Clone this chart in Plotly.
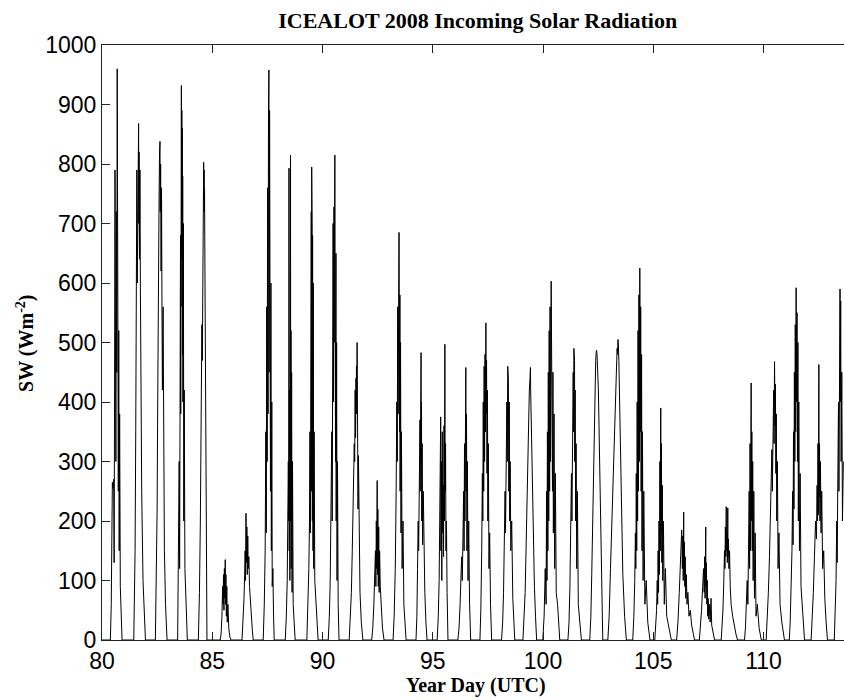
import plotly.graph_objects as go

# Hand-read samples of the incoming shortwave trace (Year Day, W m-2), one row per day
year_day = [
    80.00, 80.38, 80.42, 80.45, 80.47, 80.50, 80.53, 80.55, 80.57, 80.59, 80.61, 80.63, 80.65, 80.67, 80.69, 80.70, 80.71, 80.72, 80.73, 80.74, 80.76, 80.78, 80.80, 80.83, 80.86, 80.91,
    81.44, 81.50, 81.53, 81.55, 81.57, 81.58, 81.60, 81.62, 81.64, 81.66, 81.67, 81.68, 81.70, 81.72, 81.74, 81.76, 81.80, 81.86, 81.92, 81.97,
    82.42, 82.47, 82.50, 82.52, 82.54, 82.56, 82.57, 82.59, 82.61, 82.63, 82.64, 82.66, 82.68, 82.70, 82.72, 82.74, 82.77, 82.79, 82.83, 82.88, 82.95,
    83.43, 83.47, 83.50, 83.52, 83.53, 83.55, 83.56, 83.57, 83.58, 83.59, 83.60, 83.61, 83.62, 83.63, 83.64, 83.65, 83.66, 83.67, 83.69, 83.71, 83.73, 83.76, 83.80, 83.87,
    84.37, 84.42, 84.46, 84.50, 84.53, 84.55, 84.57, 84.59, 84.61, 84.62, 84.63, 84.64, 84.65, 84.66, 84.67, 84.69, 84.71, 84.74, 84.76,
    85.36, 85.40, 85.44, 85.47, 85.49, 85.51, 85.53, 85.55, 85.57, 85.59, 85.60, 85.62, 85.64, 85.66, 85.68, 85.71, 85.75, 85.80, 85.85,
    86.35, 86.40, 86.44, 86.47, 86.49, 86.51, 86.53, 86.55, 86.57, 86.59, 86.61, 86.63, 86.66, 86.69, 86.73, 86.78, 86.82, 86.86,
    87.31, 87.36, 87.40, 87.43, 87.45, 87.47, 87.49, 87.51, 87.53, 87.55, 87.56, 87.57, 87.58, 87.60, 87.61, 87.63, 87.64, 87.66, 87.68, 87.70, 87.72, 87.75, 87.78, 87.81,
    88.31, 88.36, 88.40, 88.43, 88.45, 88.47, 88.48, 88.49, 88.50, 88.52, 88.53, 88.54, 88.55, 88.56, 88.57, 88.58, 88.60, 88.62, 88.64, 88.67, 88.71, 88.76,
    89.29, 89.34, 89.38, 89.41, 89.43, 89.45, 89.46, 89.47, 89.49, 89.50, 89.51, 89.52, 89.53, 89.54, 89.55, 89.57, 89.58, 89.60, 89.62, 89.65, 89.70, 89.75, 89.80,
    90.26, 90.31, 90.35, 90.39, 90.42, 90.44, 90.45, 90.47, 90.48, 90.50, 90.52, 90.53, 90.56, 90.57, 90.58, 90.59, 90.61, 90.62, 90.64, 90.66, 90.68, 90.71, 90.75,
    91.21, 91.26, 91.31, 91.35, 91.39, 91.42, 91.44, 91.46, 91.48, 91.50, 91.52, 91.53, 91.54, 91.55, 91.57, 91.58, 91.59, 91.61, 91.63, 91.66, 91.70, 91.76, 91.83,
    92.23, 92.28, 92.33, 92.37, 92.40, 92.42, 92.44, 92.46, 92.48, 92.49, 92.51, 92.53, 92.55, 92.57, 92.59, 92.62, 92.66, 92.72, 92.79,
    93.20, 93.25, 93.30, 93.34, 93.37, 93.39, 93.41, 93.43, 93.47, 93.48, 93.49, 93.50, 93.51, 93.52, 93.54, 93.56, 93.58, 93.61, 93.65, 93.69, 93.74, 93.79,
    94.24, 94.28, 94.31, 94.34, 94.36, 94.38, 94.40, 94.42, 94.43, 94.45, 94.47, 94.48, 94.49, 94.50, 94.52, 94.54, 94.57, 94.60, 94.64, 94.69, 94.74,
    95.20, 95.25, 95.29, 95.32, 95.34, 95.36, 95.37, 95.39, 95.41, 95.43, 95.45, 95.47, 95.49, 95.51, 95.53, 95.55, 95.56, 95.58, 95.60, 95.62, 95.65, 95.69,
    96.14, 96.19, 96.24, 96.28, 96.31, 96.34, 96.36, 96.38, 96.40, 96.42, 96.44, 96.46, 96.48, 96.50, 96.51, 96.53, 96.55, 96.57, 96.60, 96.63, 96.67, 96.72,
    97.14, 97.18, 97.22, 97.25, 97.27, 97.29, 97.31, 97.33, 97.35, 97.37, 97.39, 97.41, 97.42, 97.44, 97.46, 97.48, 97.50, 97.52, 97.55, 97.58, 97.62, 97.67,
    98.12, 98.17, 98.21, 98.25, 98.28, 98.30, 98.32, 98.34, 98.36, 98.38, 98.40, 98.41, 98.43, 98.45, 98.47, 98.49, 98.51, 98.54, 98.58, 98.63, 98.68, 98.72,
    99.09, 99.14, 99.19, 99.23, 99.27, 99.31, 99.35, 99.38, 99.41, 99.43, 99.44, 99.46, 99.49, 99.53, 99.57, 99.61, 99.66, 99.71,
    99.99, 100.05, 100.10, 100.14, 100.16, 100.18, 100.20, 100.22, 100.24, 100.26, 100.28, 100.30, 100.32, 100.34, 100.37, 100.39, 100.41, 100.43, 100.45, 100.47, 100.50, 100.53, 100.56, 100.60, 100.66, 100.71, 100.76,
    101.13, 101.18, 101.22, 101.26, 101.29, 101.31, 101.33, 101.35, 101.37, 101.38, 101.40, 101.41, 101.43, 101.44, 101.46, 101.48, 101.50, 101.53, 101.56, 101.60, 101.65, 101.74,
    102.12, 102.17, 102.21, 102.25, 102.29, 102.33, 102.36, 102.39, 102.41, 102.43, 102.45, 102.48, 102.51, 102.54, 102.58, 102.62, 102.66, 102.71,
    102.94, 103.00, 103.06, 103.12, 103.18, 103.24, 103.29, 103.33, 103.36, 103.38, 103.40, 103.42, 103.44, 103.47, 103.51, 103.56, 103.62, 103.70, 103.78,
    104.07, 104.12, 104.16, 104.19, 104.21, 104.23, 104.25, 104.27, 104.29, 104.31, 104.33, 104.35, 104.37, 104.39, 104.41, 104.43, 104.45, 104.47, 104.49, 104.51, 104.54, 104.57, 104.62, 104.68, 104.75, 104.85,
    105.07, 105.11, 105.15, 105.18, 105.20, 105.22, 105.24, 105.26, 105.28, 105.30, 105.32, 105.34, 105.35, 105.37, 105.39, 105.41, 105.43, 105.46, 105.50, 105.55, 105.61, 105.70, 105.82,
    106.06, 106.12, 106.18, 106.24, 106.29, 106.32, 106.34, 106.36, 106.38, 106.39, 106.41, 106.43, 106.45, 106.47, 106.50, 106.53, 106.57, 106.62, 106.68, 106.74, 106.80, 106.87,
    107.09, 107.14, 107.19, 107.24, 107.28, 107.31, 107.33, 107.35, 107.38, 107.39, 107.41, 107.43, 107.45, 107.47, 107.49, 107.52, 107.55, 107.58, 107.62, 107.65, 107.70, 107.78,
    108.08, 108.12, 108.16, 108.20, 108.23, 108.25, 108.27, 108.29, 108.31, 108.32, 108.34, 108.36, 108.38, 108.39, 108.41, 108.43, 108.46, 108.49, 108.53, 108.60, 108.68, 108.75, 108.82,
    109.14, 109.18, 109.22, 109.26, 109.29, 109.31, 109.33, 109.35, 109.37, 109.39, 109.41, 109.44, 109.45, 109.47, 109.49, 109.51, 109.53, 109.56, 109.59, 109.62, 109.66, 109.72, 109.80, 109.90,
    110.12, 110.17, 110.22, 110.27, 110.31, 110.35, 110.38, 110.40, 110.42, 110.44, 110.46, 110.48, 110.50, 110.52, 110.54, 110.56, 110.58, 110.60, 110.63, 110.66, 110.70, 110.75, 110.83, 110.95,
    111.17, 111.21, 111.25, 111.29, 111.32, 111.34, 111.36, 111.38, 111.40, 111.42, 111.44, 111.46, 111.48, 111.50, 111.52, 111.54, 111.56, 111.58, 111.60, 111.63, 111.66, 111.70, 111.75, 111.80, 111.86,
    112.16, 112.21, 112.26, 112.31, 112.36, 112.40, 112.43, 112.45, 112.47, 112.49, 112.51, 112.52, 112.54, 112.56, 112.58, 112.61, 112.64, 112.68, 112.73, 112.78, 112.84, 112.90,
    113.21, 113.25, 113.29, 113.32, 113.34, 113.36, 113.38, 113.40, 113.42, 113.44, 113.45, 113.47, 113.48, 113.50, 113.52, 113.55, 113.58, 113.62,
]

sw_down = [
    0, 0, 60, 150, 265, 255, 270, 130, 420, 790, 520, 300, 720, 450, 960, 600, 840, 350, 700, 250, 520, 150, 380, 90, 60, 0,
    0, 150, 350, 500, 560, 790, 600, 700, 860, 868, 700, 820, 640, 790, 600, 400, 250, 100, 30, 0,
    0, 100, 220, 360, 560, 490, 700, 750, 820, 838, 720, 800, 620, 760, 560, 420, 560, 300, 150, 60, 0,
    0, 120, 300, 120, 520, 200, 680, 380, 850, 500, 932, 640, 890, 560, 860, 480, 780, 400, 700, 200, 420, 120, 60, 0,
    0, 80, 200, 350, 530, 470, 700, 760, 803, 740, 790, 720, 760, 680, 620, 400, 200, 60, 0,
    0, 10, 40, 90, 60, 110, 50, 120, 70, 135, 60, 110, 40, 90, 30, 60, 20, 5, 0,
    0, 30, 70, 110, 150, 100, 213, 130, 190, 110, 175, 120, 140, 90, 60, 40, 15, 0,
    0, 60, 150, 350, 180, 560, 300, 760, 380, 880, 500, 958, 450, 890, 350, 760, 250, 600, 150, 400, 90, 120, 40, 0,
    0, 40, 100, 180, 300, 200, 793, 150, 420, 100, 500, 150, 815, 200, 520, 120, 450, 80, 300, 60, 30, 0,
    0, 50, 120, 200, 350, 180, 600, 300, 720, 250, 795, 400, 700, 200, 680, 150, 600, 120, 350, 100, 60, 20, 0,
    0, 40, 100, 200, 350, 200, 520, 300, 700, 400, 728, 500, 815, 600, 700, 300, 650, 200, 500, 100, 300, 60, 0,
    0, 30, 80, 150, 230, 280, 330, 300, 420, 340, 440, 380, 460, 400, 500, 380, 440, 220, 310, 150, 80, 30, 0,
    0, 20, 60, 110, 150, 90, 200, 120, 268, 110, 220, 90, 190, 80, 150, 90, 50, 20, 0,
    0, 40, 120, 250, 400, 300, 560, 380, 685, 450, 605, 350, 580, 250, 500, 180, 350, 120, 200, 60, 20, 0,
    0, 40, 120, 200, 150, 300, 220, 370, 250, 420, 483, 300, 400, 200, 330, 160, 250, 120, 80, 30, 0,
    0, 40, 100, 180, 250, 375, 150, 300, 100, 350, 180, 260, 140, 360, 200, 497, 250, 330, 150, 200, 80, 0,
    0, 20, 60, 100, 140, 100, 180, 130, 250, 150, 330, 200, 400, 458, 250, 380, 150, 300, 100, 200, 60, 0,
    0, 50, 150, 280, 200, 400, 250, 460, 300, 480, 350, 533, 380, 470, 280, 420, 200, 330, 120, 180, 60, 0,
    0, 30, 80, 150, 250, 180, 330, 230, 400, 300, 460, 330, 440, 250, 400, 200, 300, 150, 200, 70, 20, 0,
    0, 30, 80, 150, 230, 300, 370, 420, 440, 458, 420, 380, 300, 220, 150, 90, 40, 0,
    0, 40, 120, 60, 250, 100, 350, 150, 450, 200, 520, 250, 560, 300, 603, 350, 520, 250, 450, 180, 380, 120, 280, 80, 60, 20, 0,
    0, 30, 90, 180, 280, 200, 380, 300, 450, 350, 490, 380, 470, 300, 420, 200, 330, 120, 250, 60, 40, 0,
    0, 40, 110, 200, 290, 370, 430, 470, 483, 487, 480, 460, 420, 360, 260, 160, 70, 0,
    0, 40, 120, 200, 290, 370, 430, 470, 490, 480, 505, 495, 470, 400, 300, 200, 110, 40, 0,
    0, 40, 100, 180, 120, 280, 150, 400, 200, 520, 250, 580, 300, 625, 350, 560, 250, 480, 150, 350, 100, 250, 60, 100, 30, 0,
    0, 20, 50, 100, 60, 150, 80, 200, 110, 300, 150, 390, 180, 330, 130, 260, 100, 200, 60, 120, 40, 20, 0,
    0, 30, 80, 140, 185, 120, 175, 100, 215, 110, 165, 90, 140, 70, 110, 60, 80, 40, 50, 25, 10, 0,
    0, 20, 50, 90, 120, 80, 140, 70, 190, 90, 130, 60, 100, 40, 70, 35, 60, 30, 70, 25, 15, 0,
    0, 20, 50, 100, 150, 120, 190, 140, 224, 150, 180, 130, 222, 140, 170, 120, 150, 90, 60, 40, 20, 10, 0,
    0, 20, 50, 100, 60, 160, 90, 250, 120, 330, 150, 432, 200, 350, 150, 300, 100, 250, 70, 180, 40, 60, 20, 0,
    0, 30, 80, 140, 200, 260, 320, 250, 370, 300, 420, 330, 468, 360, 430, 280, 380, 200, 300, 120, 180, 60, 30, 0,
    0, 30, 80, 150, 250, 160, 350, 220, 450, 300, 530, 350, 592, 400, 550, 300, 500, 200, 400, 150, 280, 90, 60, 20, 0,
    0, 30, 80, 140, 200, 170, 260, 200, 330, 210, 463, 240, 330, 200, 300, 180, 250, 120, 150, 70, 30, 0,
    0, 40, 100, 200, 130, 230, 300, 400, 250, 560, 350, 590, 400, 570, 300, 450, 200, 300,
]

x_ticks = [80, 85, 90, 95, 100, 105, 110]
y_ticks = [0, 100, 200, 300, 400, 500, 600, 700, 800, 900, 1000]

title_text = "ICEALOT 2008 Incoming Solar Radiation"
x_title = "Year Day (UTC)"
y_title = "SW (Wm<sup>-2</sup>)"

serif = "Liberation Serif, Times New Roman, serif"
sans = "Liberation Sans, Arial, sans-serif"

fig = go.Figure(
    go.Scatter(
        x=year_day,
        y=sw_down,
        mode="lines",
        line=dict(color="black", width=1),
        hoverinfo="x+y",
        showlegend=False,
    )
)

axis_common = dict(
    showgrid=False,
    zeroline=False,
    showline=True,
    linecolor="#222222",
    linewidth=1,
    ticks="inside",
    ticklen=8,
    tickcolor="#222222",
    tickfont=dict(family=sans, size=23, color="black"),
)

fig.update_layout(
    width=844,
    height=700,
    margin=dict(l=102, r=0, t=45, b=60),
    paper_bgcolor="white",
    plot_bgcolor="white",
    title=dict(
        text="<b>" + title_text + "</b>",
        font=dict(family=serif, size=22, color="black"),
        x=0.566,
        xanchor="center",
        y=0.971,
        yanchor="middle",
    ),
    xaxis=dict(
        range=[80, 113.65],
        tickvals=x_ticks,
        ticktext=[str(v) for v in x_ticks],
        mirror="ticks",
        **axis_common,
    ),
    yaxis=dict(
        range=[0, 1000],
        tickvals=y_ticks,
        ticktext=[str(v) for v in y_ticks],
        mirror=False,
        **axis_common,
    ),
    annotations=[
        dict(
            text="<b>" + x_title + "</b>",
            xref="paper", yref="paper",
            x=0.504, y=-0.077,
            xanchor="center", yanchor="middle",
            showarrow=False,
            font=dict(family=serif, size=20, color="black"),
        ),
        dict(
            text="<b>" + y_title + "</b>",
            xref="paper", yref="paper",
            x=-0.104, y=0.499,
            xanchor="center", yanchor="middle",
            textangle=-90,
            showarrow=False,
            font=dict(family=serif, size=20, color="black"),
        ),
    ],
)

fig.write_html("out.html")
